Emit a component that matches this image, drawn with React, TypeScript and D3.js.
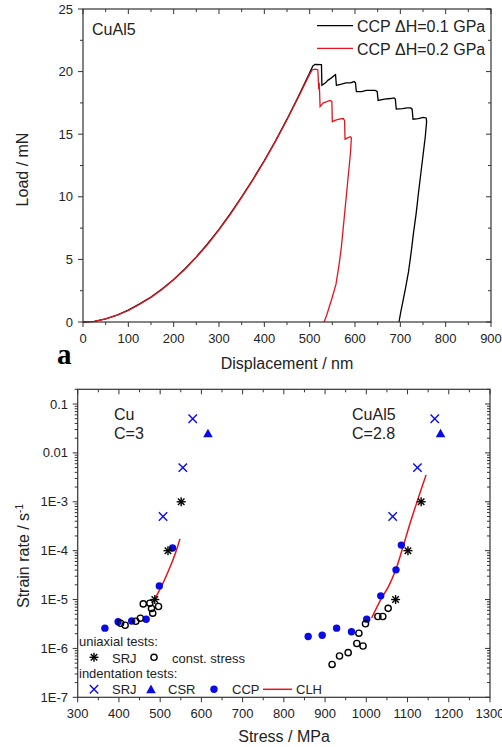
import React from 'react';
import * as d3 from 'd3';

// ---- panel a: load vs displacement (CuAl5) ----
const curveBlack: [number, number][] = [
  [0, 0], [25, 0.05], [50, 0.25], [75, 0.55], [100, 0.95], [125, 1.45], [150, 2.0], [175, 2.65],
  [200, 3.4], [225, 4.25], [250, 5.2], [275, 6.25], [300, 7.4], [325, 8.65], [350, 10.0], [375, 11.4],
  [400, 12.9], [425, 14.5], [450, 16.2], [475, 18.0], [500, 19.9], [507, 20.45], [512, 20.58], [526, 20.55],
  [527, 18.9], [535, 19.1], [540, 19.3], [548, 19.5], [555, 19.7], [557, 19.75], [559, 18.9], [570, 19.0],
  [580, 19.1], [590, 19.1], [598, 19.2], [601, 19.1], [603, 18.4], [615, 18.4], [625, 18.5], [635, 18.5],
  [645, 18.5], [649, 18.4], [651, 17.7], [665, 17.8], [678, 17.85], [686, 17.9], [689, 17.8], [691, 17.0],
  [705, 17.05], [715, 17.1], [723, 17.1], [726, 17.0], [728, 16.2], [740, 16.25], [750, 16.35], [757, 16.3],
  [758, 16.0], [755, 14.8], [750, 13.3], [745, 11.8], [740, 10.3], [735, 8.7], [729, 7.1], [724, 5.6],
  [718, 4.0], [712, 2.8], [706, 1.7], [701, 0.8], [697, 0],
];
const curveRed: [number, number][] = [
  [0, 0], [25, 0.05], [50, 0.25], [75, 0.55], [100, 0.92], [125, 1.42], [150, 1.97], [175, 2.62],
  [200, 3.37], [225, 4.22], [250, 5.17], [275, 6.2], [300, 7.35], [325, 8.6], [350, 9.95], [375, 11.35],
  [400, 12.85], [425, 14.45], [450, 16.15], [475, 17.95], [500, 19.8], [506, 20.15], [512, 20.2], [518, 20.15],
  [520, 18.6], [521, 19.1], [522, 18.2], [523, 17.2], [530, 17.5], [538, 17.6], [545, 17.7], [549, 17.6],
  [550, 16.0], [556, 16.1], [565, 16.2], [574, 16.25], [577, 16.1], [578, 14.6], [584, 14.7], [590, 14.8],
  [592, 14.7], [590, 13.5], [586, 12.0], [582, 10.5], [578, 9.0], [574, 7.5], [570, 6.0], [565, 4.6],
  [558, 3.0], [550, 2.0], [544, 1.3], [538, 0.6], [532, 0],
];
const legendA = ['CCP \u0394H=0.1 GPa', 'CCP \u0394H=0.2 GPa'];

// ---- panel b: strain rate vs stress ----
const srjUniaxial: [number, number][] = [[551, 1e-3], [519, 1e-4], [487, 1e-5], [1133, 1e-3], [1101, 1e-4], [1071, 1e-5]];
const constStress: [number, number][] = [
  [404, 3.27e-6], [415, 2.98e-6], [441, 3.6e-6], [452, 4.15e-6], [459, 8.15e-6], [475, 8.4e-6],
  [479, 6.55e-6], [482, 5.25e-6], [496, 7.2e-6],
  [917, 4.7e-7], [935, 7e-7], [956, 8.2e-7], [977, 1.26e-6], [992, 1.12e-6], [982, 2.05e-6],
  [998, 3.2e-6], [1028, 4.5e-6], [1040, 4.5e-6], [1053, 6.6e-6],
];
const srjIndent: [number, number][] = [[579, 0.05], [555, 0.005], [507, 5e-4], [1166, 0.05], [1124, 0.005], [1064, 5e-4]];
const csrIndent: [number, number][] = [[616, 0.025], [1180, 0.025]];
const ccpIndent: [number, number][] = [
  [366, 2.6e-6], [398, 3.5e-6], [431, 3.65e-6], [466, 3.95e-6], [498, 1.9e-5], [530, 1.13e-4],
  [859, 1.75e-6], [893, 1.86e-6], [928, 2.6e-6], [964, 2.2e-6], [1001, 3.97e-6], [1035, 1.19e-5],
  [1072, 4.05e-5], [1085, 1.3e-4],
];
const clhCu: [number, number][] = [[486, 1e-5], [505, 2e-5], [522, 4.2e-5], [537, 8.9e-5], [548, 1.74e-4]];
const clhCuAl5: [number, number][] = [
  [1013, 4.2e-6], [1035, 1e-5], [1054, 1.86e-5], [1072, 4.2e-5], [1088, 1.12e-4], [1106, 3.6e-4],
  [1125, 1.12e-3], [1145, 3.55e-3],
];
const logTickLabels = ['1E-7', '1E-6', '1E-5', '1E-4', '1E-3', '0.01', '0.1'];

const FONT = 'Liberation Sans, Arial, sans-serif';
const INK = '#222';
const BLUE = '#0a0ae6';
const RED = '#e8141c';

function Asterisk({ x, y, s = 4.5 }: { x: number; y: number; s?: number }) {
  const d = s * 0.72;
  return (
    <g stroke="#000" strokeWidth={1.4}>
      <line x1={x - s} y1={y} x2={x + s} y2={y} />
      <line x1={x} y1={y - s} x2={x} y2={y + s} />
      <line x1={x - d} y1={y - d} x2={x + d} y2={y + d} />
      <line x1={x - d} y1={y + d} x2={x + d} y2={y - d} />
    </g>
  );
}
function Cross({ x, y, s = 4.2 }: { x: number; y: number; s?: number }) {
  return (
    <g stroke={BLUE} strokeWidth={1.4}>
      <line x1={x - s} y1={y - s} x2={x + s} y2={y + s} />
      <line x1={x - s} y1={y + s} x2={x + s} y2={y - s} />
    </g>
  );
}
function Tri({ x, y, s = 4.8 }: { x: number; y: number; s?: number }) {
  return <path d={`M${x},${y - s}L${x + s},${y + s * 0.8}L${x - s},${y + s * 0.8}Z`} fill={BLUE} />;
}

function PanelA() {
  const x = d3.scaleLinear().domain([0, 900]).range([83, 491]);
  const y = d3.scaleLinear().domain([0, 25]).range([322, 9]);
  const line = d3.line<[number, number]>().x(d => x(d[0])).y(d => y(d[1]));
  const xMinor = d3.range(0, 901, 50);
  const yMinor = d3.range(0, 25.01, 2.5);
  const [x0, x1] = x.range();
  const [y0, y1] = y.range();
  return (
    <g fontFamily={FONT} fill={INK}>
      {/* ticks */}
      <g stroke="#333" strokeWidth={1}>
        {xMinor.map(v => {
          const major = v % 100 === 0;
          const L = major ? 5 : 3;
          return (
            <g key={'xt' + v}>
              <line x1={x(v)} x2={x(v)} y1={y0} y2={y0 + L} />
              <line x1={x(v)} x2={x(v)} y1={y1} y2={y1 + L} />
            </g>
          );
        })}
        {yMinor.map(v => {
          const major = v % 5 === 0;
          const L = major ? 5 : 3;
          return (
            <g key={'yt' + v}>
              <line x1={x0 - L} x2={x0} y1={y(v)} y2={y(v)} />
              <line x1={x1 - L} x2={x1} y1={y(v)} y2={y(v)} />
            </g>
          );
        })}
      </g>
      <path d={line(curveBlack) || ''} fill="none" stroke="#000" strokeWidth={1.3} />
      <path d={line(curveRed) || ''} fill="none" stroke={RED} strokeWidth={1.3} />
      <rect x={x0} y={y1} width={x1 - x0} height={y0 - y1} fill="none" stroke="#333" strokeWidth={1.2} />
      {x.ticks(9).map(v => (
        <text key={'xl' + v} x={x(v)} y={343} fontSize={13} textAnchor="middle">{v}</text>
      ))}
      {y.ticks(5).map(v => (
        <text key={'yl' + v} x={73} y={y(v) + 4.5} fontSize={13} textAnchor="end">{v}</text>
      ))}
      <text x={287} y={369} fontSize={16} textAnchor="middle">Displacement / nm</text>
      <text transform="translate(28,169.5) rotate(-90)" fontSize={16} textAnchor="middle">Load / mN</text>
      <text x={57} y={364} fontSize={29} fontWeight="bold" fontFamily="Liberation Serif, Times New Roman, serif" fill="#000">a</text>
      <text x={92} y={35} fontSize={16}>CuAl5</text>
      {legendA.map((t, i) => (
        <g key={t}>
          <line x1={317} x2={353} y1={25.7 + i * 22.6} y2={25.7 + i * 22.6} stroke={i === 0 ? '#000' : RED} strokeWidth={1.3} />
          <text x={357} y={32 + i * 22.6} fontSize={16}>{t}</text>
        </g>
      ))}
    </g>
  );
}

function PanelB() {
  const x = d3.scaleLinear().domain([300, 1300]).range([77.7, 490]);
  const y = d3.scaleLog().domain([1e-7, 0.2]).range([697.3, 389.3]);
  const line = d3.line<[number, number]>().x(d => x(d[0])).y(d => y(d[1])).curve(d3.curveCatmullRom);
  const [x0, x1] = x.range();
  const [y0, y1] = y.range();
  const xMinor = d3.range(300, 1301, 50);
  const yMinor = y.ticks(60).filter(v => v <= 0.2 + 1e-9);
  const decades = d3.range(-7, 0).map(e => Math.pow(10, e));
  return (
    <g fontFamily={FONT} fill={INK}>
      <g stroke="#333" strokeWidth={1}>
        {xMinor.map(v => {
          const major = v % 100 === 0;
          const L = major ? 5 : 3;
          return (
            <g key={'bxt' + v}>
              <line x1={x(v)} x2={x(v)} y1={y0} y2={y0 + L} />
              <line x1={x(v)} x2={x(v)} y1={y1} y2={y1 + L} />
            </g>
          );
        })}
        {yMinor.map((v, i) => {
          const major = Math.abs(Math.log10(v) - Math.round(Math.log10(v))) < 1e-6;
          const L = major ? 5 : 3;
          return (
            <g key={'byt' + i}>
              <line x1={x0 - L} x2={x0} y1={y(v)} y2={y(v)} />
              <line x1={x1 - L} x2={x1} y1={y(v)} y2={y(v)} />
            </g>
          );
        })}
      </g>
      <rect x={x0} y={y1} width={x1 - x0} height={y0 - y1} fill="none" stroke="#333" strokeWidth={1.2} />
      {x.ticks(10).map(v => (
        <text key={'bxl' + v} x={x(v)} y={718} fontSize={13} textAnchor="middle">{v}</text>
      ))}
      {decades.map((v, i) => (
        <text key={'byl' + i} x={68} y={y(v) + 4.5} fontSize={13} textAnchor="end">{logTickLabels[i]}</text>
      ))}
      <text x={284} y={742} fontSize={16} textAnchor="middle">Stress / MPa</text>
      <text transform="translate(29,556) rotate(-90)" fontSize={16} textAnchor="middle">
        Strain rate / s<tspan dy={-6} fontSize={10}>-1</tspan>
      </text>
      <text x={114} y={420} fontSize={16}>Cu</text>
      <text x={114} y={439} fontSize={16}>C=3</text>
      <text x={352} y={420} fontSize={16}>CuAl5</text>
      <text x={352} y={439} fontSize={16}>C=2.8</text>

      {/* data */}
      <path d={line(clhCu) || ''} fill="none" stroke={RED} strokeWidth={1.5} />
      <path d={line(clhCuAl5) || ''} fill="none" stroke={RED} strokeWidth={1.5} />
      {ccpIndent.map((d, i) => (
        <circle key={'ccp' + i} cx={x(d[0])} cy={y(d[1])} r={3.7} fill={BLUE} />
      ))}
      {constStress.map((d, i) => (
        <circle key={'cs' + i} cx={x(d[0])} cy={y(d[1])} r={3.1} fill="none" stroke="#000" strokeWidth={1.4} />
      ))}
      {srjUniaxial.map((d, i) => <Asterisk key={'su' + i} x={x(d[0])} y={y(d[1])} />)}
      {srjIndent.map((d, i) => <Cross key={'si' + i} x={x(d[0])} y={y(d[1])} />)}
      {csrIndent.map((d, i) => <Tri key={'csr' + i} x={x(d[0])} y={y(d[1])} />)}

      {/* legend */}
      <text x={79} y={646} fontSize={13}>uniaxial tests:</text>
      <Asterisk x={94} y={657.3} />
      <text x={112} y={662.5} fontSize={13}>SRJ</text>
      <circle cx={154} cy={657.3} r={3.1} fill="none" stroke="#000" strokeWidth={1.4} />
      <text x={172} y={662.5} fontSize={13}>const. stress</text>
      <text x={79} y={678} fontSize={13}>indentation tests:</text>
      <Cross x={94} y={689.3} />
      <text x={112} y={694} fontSize={13}>SRJ</text>
      <Tri x={151} y={689.3} />
      <text x={168} y={694} fontSize={13}>CSR</text>
      <circle cx={214} cy={689.3} r={3.7} fill={BLUE} />
      <text x={232} y={694} fontSize={13}>CCP</text>
      <line x1={263} x2={292} y1={689.3} y2={689.3} stroke={RED} strokeWidth={1.5} />
      <text x={296} y={694} fontSize={13}>CLH</text>
    </g>
  );
}

export default function App() {
  return (
    <svg width={502} height={747} style={{ position: 'absolute', left: 0, top: 0, background: '#fff' }}>
      <rect width={502} height={747} fill="#fff" />
      <PanelA />
      <PanelB />
    </svg>
  );
}
